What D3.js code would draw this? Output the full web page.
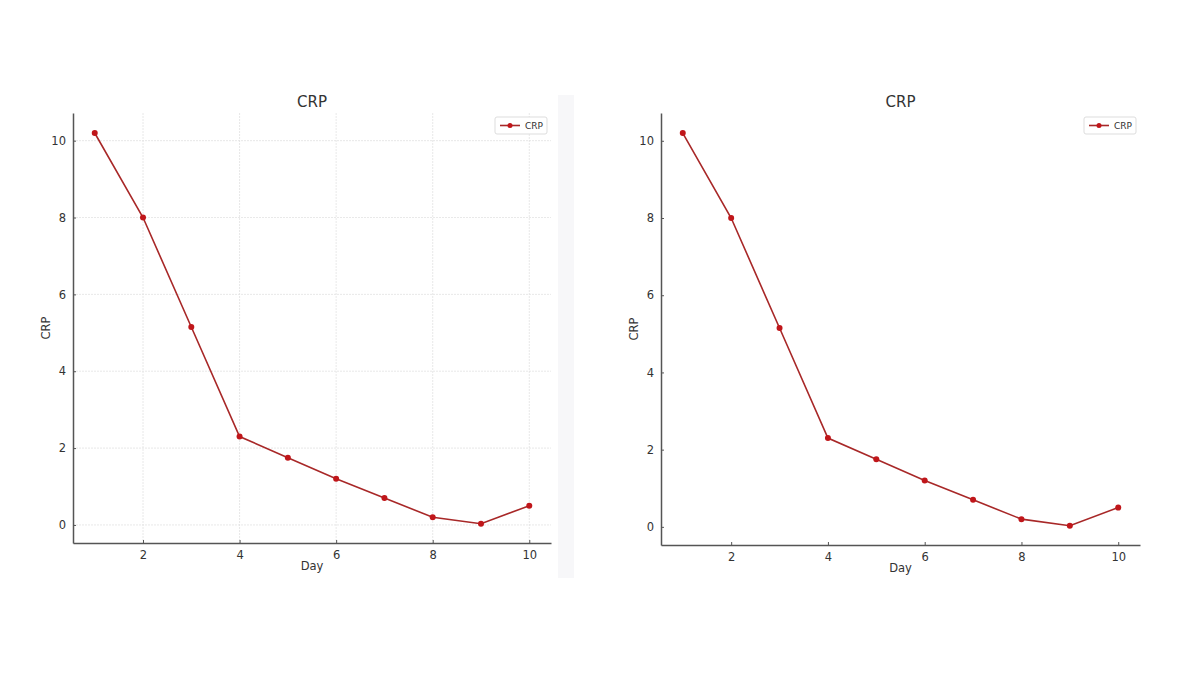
<!DOCTYPE html>
<html><head><meta charset="utf-8">
<script src="https://cdn.jsdelivr.net/npm/d3@7/dist/d3.min.js"></script>
<style>body{margin:0;background:#fff}svg{display:block}text{font-family:"DejaVu Sans",sans-serif}</style>
</head><body><svg id="c" width="1200" height="675"></svg>
<script>
const days = [1,2,3,4,5,6,7,8,9,10];
const crp = [10.2,8.0,5.15,2.3,1.75,1.2,0.7,0.2,0.03,0.5];
const xTicks = [2,4,6,8,10];
const yTicks = [0,2,4,6,8,10];
const title = "CRP", xLabel = "Day", yLabel = "CRP", seriesName = "CRP";

const svg = d3.select("#c");
svg.append("rect").attr("x",558).attr("y",95).attr("width",16).attr("height",483).attr("fill","#f7f7f9");

function panel(o){
  const g = svg.append("g");
  const x = d3.scaleLinear().domain([0.55,10.45]).range([o.l,o.r]);
  const y = d3.scaleLinear().domain([-0.47,10.72]).range([o.b,o.t]);
  if(o.grid){
    g.selectAll(".gx").data(xTicks).join("line").attr("x1",d=>x(d)).attr("x2",d=>x(d)).attr("y1",o.t).attr("y2",o.b)
      .attr("stroke","#e2e2e2").attr("stroke-width",0.8).attr("stroke-dasharray","2,1");
    g.selectAll(".gy").data(yTicks).join("line").attr("y1",d=>y(d)).attr("y2",d=>y(d)).attr("x1",o.l).attr("x2",o.r)
      .attr("stroke","#e2e2e2").attr("stroke-width",0.8).attr("stroke-dasharray","2,1");
  }
  const xa = g.append("g").attr("transform",`translate(0,${o.b})`).call(d3.axisBottom(x).tickValues(xTicks).tickSize(-3).tickPadding(8).tickSizeOuter(0));
  const ya = g.append("g").attr("transform",`translate(${o.l},0)`).call(d3.axisLeft(y).tickValues(yTicks).tickSize(-3).tickPadding(7).tickSizeOuter(0));
  [xa,ya].forEach(a=>{a.select(".domain").attr("stroke","#555").attr("stroke-width",1.5);
    a.selectAll(".tick line").attr("stroke","#555");
    a.selectAll("text").attr("font-size",11.5).attr("fill","#333");});
  const line = d3.line().x((d,i)=>x(days[i])).y(d=>y(d));
  g.append("path").datum(crp).attr("d",line).attr("fill","none").attr("stroke","#a82828").attr("stroke-width",1.6);
  g.selectAll(".pt").data(crp).join("circle").attr("cx",(d,i)=>x(days[i])).attr("cy",d=>y(d)).attr("r",3).attr("fill","#c0161a");
  g.append("text").attr("x",(o.l+o.r)/2).attr("y",o.t-6).attr("text-anchor","middle").attr("font-size",15).attr("fill","#333").text(title);
  g.append("text").attr("x",(o.l+o.r)/2).attr("y",o.b+27).attr("text-anchor","middle").attr("font-size",11.5).attr("fill","#333").text(xLabel);
  g.append("text").attr("transform",`translate(${o.l-23},${(o.t+o.b)/2}) rotate(-90)`).attr("text-anchor","middle").attr("font-size",11.5).attr("fill","#333").text(yLabel);
  const lg = g.append("g").attr("transform",`translate(${o.r-56},${o.t+4})`);
  lg.append("rect").attr("width",52).attr("height",17).attr("rx",2).attr("fill","#fff").attr("stroke","#ddd");
  lg.append("line").attr("x1",5).attr("x2",25).attr("y1",8.5).attr("y2",8.5).attr("stroke","#a82828").attr("stroke-width",1.6);
  lg.append("circle").attr("cx",15).attr("cy",8.5).attr("r",2.5).attr("fill","#c0161a");
  lg.append("text").attr("x",30).attr("y",12).attr("font-size",9).attr("fill","#333").text(seriesName);
}
panel({l:73,r:551,t:113,b:543,grid:true});
panel({l:661,r:1140,t:113,b:545,grid:false});
</script></body></html>
